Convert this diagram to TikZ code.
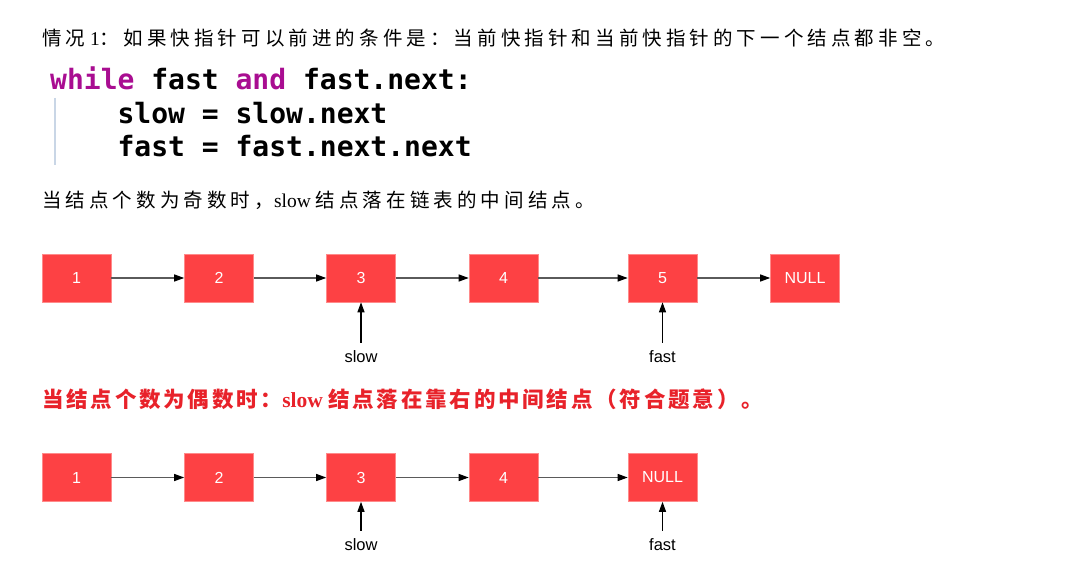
\documentclass[tikz,border=0pt]{standalone}
\usepackage{fontspec}
\usetikzlibrary{arrows.meta}
\setmainfont{Liberation Serif}
\newfontfamily\cjk[LetterSpace=21]{Noto Sans CJK SC}
\newfontfamily\cjkb[LetterSpace=13]{Noto Sans CJK SC Bold}
\newfontfamily\helv{Liberation Sans}
\newfontfamily\mono{DejaVu Sans Mono}
\definecolor{boxred}{HTML}{FD4144}
\definecolor{boxedge}{HTML}{FF8A8A}
\definecolor{linkgray}{HTML}{5A5A5A}
\definecolor{kw}{HTML}{A90D91}
\definecolor{headred}{HTML}{E8222A}
\definecolor{barblue}{HTML}{C9D6E6}
\tikzset{
  lnode/.style={draw=boxedge, line width=0.6pt, fill=boxred, minimum width=69pt, minimum height=48pt, inner sep=0pt, text=white, font=\helv\fontsize{16}{16}\selectfont},
  link/.style={draw=linkgray, line width=1.2pt, -{Triangle[length=10pt,width=7pt,color=black]}},
  ptr/.style={draw=black, line width=1.2pt, shorten <=5pt, -{Triangle[length=10pt,width=7pt]}},
  plabel/.style={inner sep=3pt, font=\helv\fontsize{16.5}{16.5}\selectfont},
  txt/.style={anchor=west, inner sep=0pt, font=\fontsize{19.5}{20}\selectfont},
  code/.style={anchor=base west, inner sep=0pt, font=\mono\bfseries\fontsize{28}{28}\selectfont}
}
\begin{document}
\begin{tikzpicture}[x=1pt,y=-1pt]
\useasboundingbox (0,0) rectangle (1081,585);
\fill[white] (0,0) rectangle (1081,585);
% heading
\node[txt] (h1) at (42,38) {{\cjk 情况}\ 1{\cjk ：如果快指针可以前进的条件是：当前快指针和当前快指针的下一个结点都非空。}};
% code
\draw[barblue, line width=1.5pt] (55,98) coordinate (bartop) -- (55,165) coordinate (barbot);
\node[code] (c1) at (50,90) {\textcolor{kw}{while} fast \textcolor{kw}{and} fast.next:};
\node[code] (c2) at (50,124) {\ \ \ \ slow = slow.next};
\node[code] (c3) at (50,157) {\ \ \ \ fast = fast.next.next};
% odd case
\node[txt] (t2) at (42,200) {{\cjk 当结点个数为奇数时，}slow {\cjk 结点落在链表的中间结点。}};
\node[lnode] (a1) at (76.5,278) {1};
\node[lnode] (a2) at (219,278) {2};
\node[lnode] (a3) at (361,278) {3};
\node[lnode] (a4) at (503.5,278) {4};
\node[lnode] (a5) at (662.5,278) {5};
\node[lnode] (a6) at (805,278) {NULL};
\draw[link] (a1) -- (a2);
\draw[link] (a2) -- (a3);
\draw[link] (a3) -- (a4);
\draw[link] (a4) -- (a5);
\draw[link] (a5) -- (a6);
\node[plabel] (as) at (361,357) {slow};
\node[plabel] (af) at (662.5,357) {fast};
\draw[ptr] (as.north) -- (a3.south);
\draw[ptr] (af.north) -- (a5.south);
% even case
\node[txt, text=headred, font=\bfseries\fontsize{21.5}{22}\selectfont] (t3) at (42,399) {{\cjkb 当结点个数为偶数时：}slow {\cjkb 结点落在靠右的中间结点（符合题意）。}};
\node[lnode] (b1) at (76.5,477.5) {1};
\node[lnode] (b2) at (219,477.5) {2};
\node[lnode] (b3) at (361,477.5) {3};
\node[lnode] (b4) at (503.5,477.5) {4};
\node[lnode] (b5) at (662.5,477.5) {NULL};
\draw[link] (b1) -- (b2);
\draw[link] (b2) -- (b3);
\draw[link] (b3) -- (b4);
\draw[link] (b4) -- (b5);
\node[plabel] (bs) at (361,545) {slow};
\node[plabel] (bf) at (662.5,545) {fast};
\draw[ptr] (bs.north) -- (b3.south);
\draw[ptr] (bf.north) -- (b5.south);
\end{tikzpicture}
\end{document}
